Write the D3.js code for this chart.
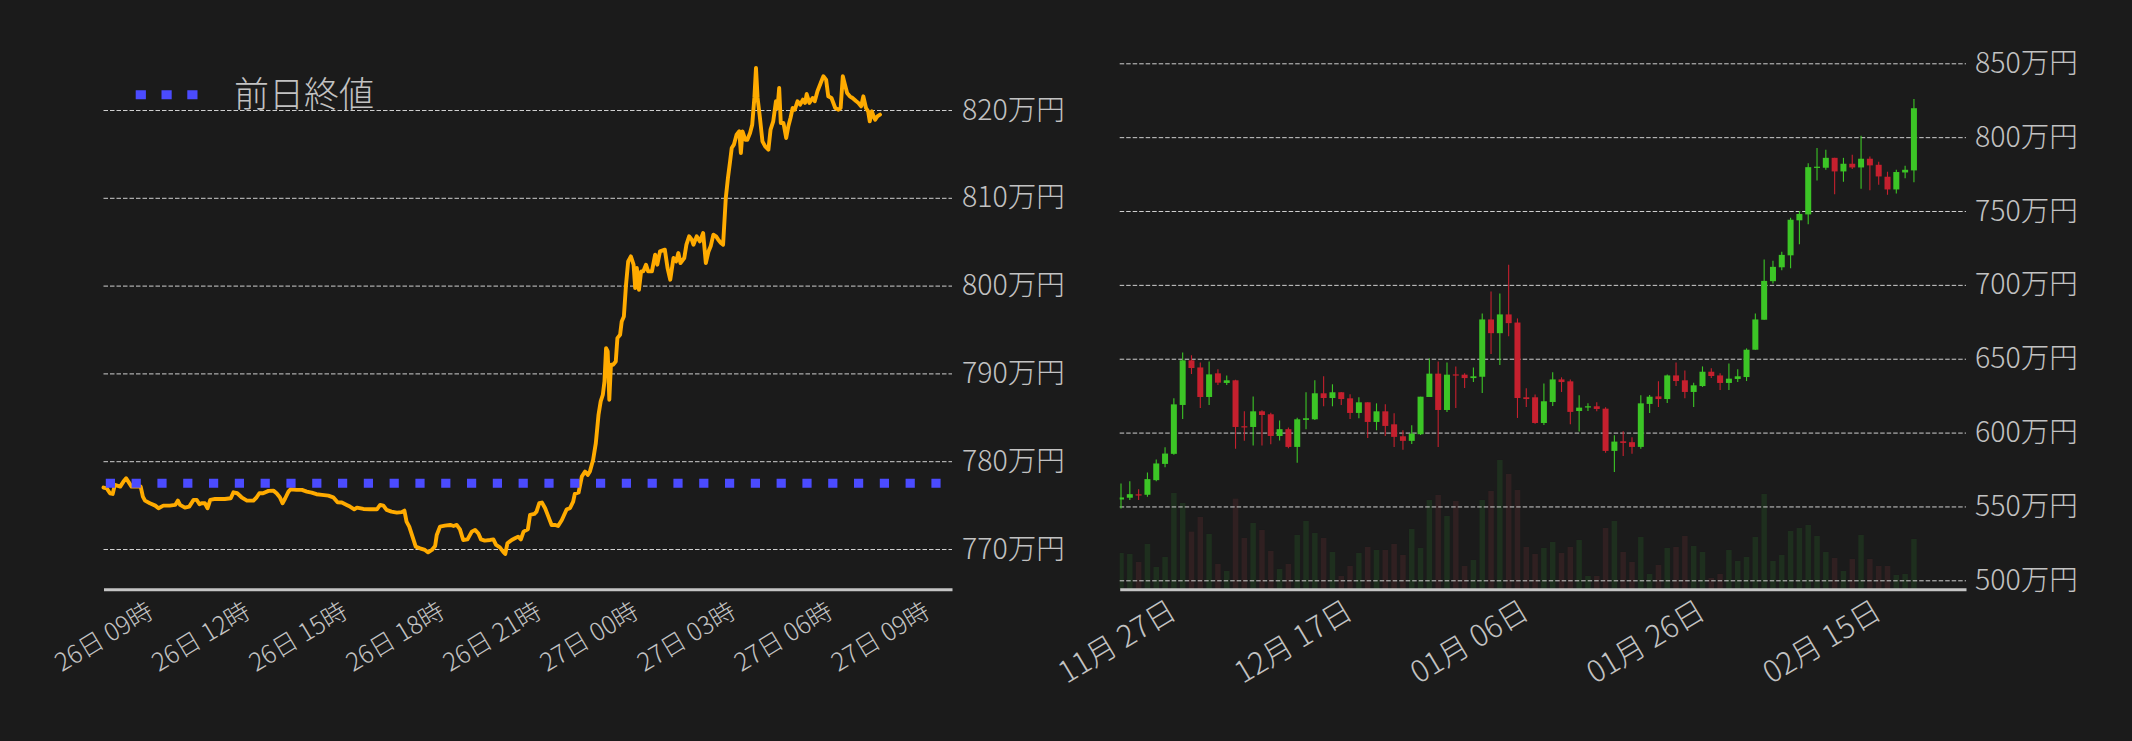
<!DOCTYPE html>
<html><head><meta charset="utf-8">
<script src="https://cdn.jsdelivr.net/npm/d3@7"></script>
<style>
html,body{margin:0;padding:0;background:#1b1b1b;}
svg{display:block;}
text{font-family:"Noto Sans CJK JP","Noto Sans",sans-serif;font-weight:300;}
</style></head><body>
<svg id="c" width="2132" height="741"></svg>
<script>
// ---------- LEFT: intraday price (万円), minutes after 26日 09:00 ----------
const lineMinutes = [0,6,12,17,21,31,37,42,46,52,62,69,73,77,86,96,102,111,123,133,138,142,151,159,167,173,178,182,188,193,198,207,216,225,236,241,248,256,266,278,284,289,296,306,315,321,327,332,337,343,347,358,368,377,386,395,405,417,426,434,442,451,457,465,470,482,494,507,513,519,525,534,544,553,558,562,567,570,575,579,587,596,602,609,615,618,624,633,643,649,655,661,667,675,683,689,695,700,707,717,723,728,735,741,745,749,757,763,769,774,779,787,791,799,803,808,813,819,825,831,837,843,850,859,865,871,874,881,887,893,898,902,908,913,918,922,926,929,932,935,938,941,945,950,953,958,961,965,969,973,978,983,986,989,993,997,1001,1006,1010,1017,1023,1027,1032,1041,1046,1051,1057,1062,1066,1070,1077,1081,1086,1091,1094,1100,1106,1112,1117,1122,1126,1131,1136,1140,1145,1149,1154,1158,1162,1165,1169,1174,1179,1182,1185,1190,1194,1199,1203,1207,1210,1213,1217,1222,1227,1233,1237,1242,1247,1250,1253,1256,1261,1266,1270,1274,1278,1282,1287,1292,1297,1301,1304,1309,1315,1319,1324,1330,1335,1340,1344,1350,1357,1363,1367,1371,1375,1379,1384,1389,1396,1400,1405,1409,1414,1418,1421,1425,1428,1431,1435,1440];
const linePrices = [777.0,776.9,776.35,776.27,777.3,777.11,777.68,778.06,777.68,777.11,777.11,777.11,775.97,775.51,775.21,774.94,774.64,774.94,774.94,775.02,775.51,775.02,774.71,774.83,775.59,775.59,775.1,775.21,775.21,774.64,775.59,775.7,775.7,775.7,775.78,776.46,776.35,775.89,775.51,775.51,775.89,776.35,776.35,776.62,776.65,776.35,775.89,775.21,775.78,776.54,776.81,776.73,776.73,776.54,776.43,776.24,776.16,776.08,775.89,775.32,775.29,775.02,774.83,774.52,774.71,774.56,774.52,774.52,775.02,774.94,774.45,774.26,774.14,774.2,774.37,773.12,772.55,771.98,771.03,770.27,770.08,769.89,769.62,769.89,770.34,771.6,772.55,772.66,772.74,772.62,772.74,772.24,771.03,771.1,771.98,772.17,771.79,771.1,770.95,771.03,771.1,770.46,770.19,769.7,769.43,770.65,771.03,771.22,771.41,771.1,771.98,772.24,773.88,773.99,774.26,775.21,775.29,774.64,773.69,772.74,772.74,772.62,773.31,774.52,774.64,775.4,776.27,776.43,778.25,778.82,778.44,778.82,780.16,782.06,785.29,786.81,787.57,789.08,792.88,792.5,787.0,790.98,790.98,791.36,794.02,794.4,795.92,796.49,800.1,802.76,803.33,802.38,799.72,802.0,799.53,801.62,801.62,802.38,801.62,801.62,803.52,802.38,803.9,804.09,802.0,800.67,803.14,802.76,803.71,802.57,803.14,804.66,805.61,805.23,804.66,805.61,805.04,805.99,802.57,803.9,804.47,805.8,805.61,805.23,804.85,804.66,809.97,812.25,814.15,815.67,816.05,817.19,817.57,815.1,817.57,816.62,816.62,817.38,818.33,821.37,824.79,821.37,819.28,816.43,815.86,815.48,817.76,818.71,820.99,820.23,822.51,818.52,818.52,816.81,818.14,819.09,820.23,820.04,820.99,820.61,821.18,820.8,821.82,820.8,821.37,820.99,822.13,823.08,823.84,823.46,821.56,821.37,820.23,820.04,820.23,823.84,822.89,821.94,821.56,821.37,820.99,820.8,820.42,821.56,820.23,819.85,818.71,819.85,819.28,818.9,819.28,819.47];
const prevClose = 777.5;
const leftYTicks = [770,780,790,800,810,820];
const leftXTickHours = [0,3,6,9,12,15,18,21,24];
const legendLabel = "前日終値";

// ---------- RIGHT: daily candles (万円), 2023-11-27 .. 2024-02-25 ----------
const candleStart = "2023-11-27";
const opens  = [554.7,555.9,558.2,557.9,567.8,578.8,585.6,618.7,648.9,644.1,624.1,640.1,633.6,635.4,604.3,603.8,614.4,612.4,597.7,602.3,590.3,608.6,609.0,626.6,623.4,627.3,623.2,613.3,620.5,607.2,614.4,605.6,597.5,594.4,598.9,624.1,639.9,615.3,639.4,639.2,636.9,637.8,676.6,667.3,680.0,674.5,623.9,623.9,606.5,620.7,636.0,634.7,614.6,617.3,617.8,616.2,587.6,594.1,593.5,590.3,619.4,624.5,622.7,638.7,635.4,627.5,631.5,641.2,638.7,633.6,636.3,637.6,656.1,676.4,702.5,711.9,720.0,743.7,747.7,779.7,779.3,786.0,776.8,782.0,779.5,785.4,781.3,773.2,764.6,776.1,777.5];
const highs  = [565.5,567.1,561.7,573.0,581.8,590.1,623.2,654.3,652.3,647.5,648.2,642.8,638.7,635.8,614.4,624.5,615.1,613.5,608.2,603.4,610.1,627.3,635.4,638.1,632.7,627.5,625.9,623.9,620.5,619.8,619.1,613.1,601.6,605.0,624.3,650.2,648.2,647.5,644.8,640.1,644.1,680.6,695.5,694.1,713.7,677.3,630.0,625.7,633.3,640.8,637.4,636.0,625.2,619.8,620.5,617.1,598.2,600.9,596.8,625.2,625.5,634.7,639.4,647.5,642.1,633.8,644.8,643.5,640.1,646.8,642.8,657.0,680.6,717.1,716.4,722.5,745.5,750.0,782.4,792.6,791.4,786.0,786.0,788.1,800.9,786.9,783.3,776.6,777.9,780.6,825.9];
const lows   = [548.6,554.3,554.3,556.5,567.1,576.6,585.0,609.2,639.6,616.7,618.7,632.2,632.2,589.0,594.4,591.2,591.2,592.1,594.6,589.4,579.5,602.3,608.6,617.8,617.8,618.7,609.2,609.7,596.4,601.6,597.7,590.3,588.3,592.3,598.4,624.1,590.3,614.0,616.7,630.2,634.2,626.8,653.2,645.7,665.3,609.9,617.3,606.0,605.2,618.0,627.5,605.6,600.7,614.6,614.4,586.3,573.4,584.2,585.6,589.0,613.3,617.3,620.0,631.5,623.2,617.3,630.9,636.9,628.8,628.8,634.2,634.9,656.1,676.4,700.9,709.9,711.3,727.5,741.0,770.7,777.9,761.3,769.8,778.4,765.1,764.0,767.8,761.0,761.9,772.1,769.4];
const closes = [556.1,558.3,557.7,568.5,579.1,585.8,619.1,648.9,643.7,624.1,639.4,633.8,635.4,603.8,603.8,614.4,611.9,597.7,602.3,590.3,609.0,609.7,626.6,623.4,627.3,622.7,613.3,620.5,607.2,614.4,604.5,597.1,594.4,599.3,624.3,639.9,615.3,639.2,638.9,636.9,638.1,676.6,667.3,680.0,674.1,623.4,622.7,606.5,621.2,636.0,634.2,614.0,616.9,617.8,616.0,587.6,593.9,593.0,590.3,619.8,624.3,622.7,638.7,634.9,627.5,632.0,641.2,638.3,633.6,636.5,638.1,656.1,676.6,702.7,712.2,720.3,744.1,748.0,779.7,780.0,786.0,776.8,782.0,779.5,785.4,780.9,773.4,764.6,776.4,777.9,819.6];
const volumes = [908,883,683,1133,558,808,2408,2158,1440,1808,1383,633,458,2265,1283,1658,1483,958,508,633,1358,1708,1408,1283,933,333,583,908,1058,983,983,1133,858,1508,1033,2233,2358,1833,2208,583,733,2233,2458,3233,2883,2483,1058,883,1033,1183,908,1058,1233,333,333,1533,1708,933,683,1308,383,608,1033,1058,1333,1083,933,283,383,983,708,808,1308,2383,708,858,1458,1533,1608,1333,933,783,458,758,1358,758,583,583,358,383,1258];
const rightYTicks = [500,550,600,650,700,750,800,850];
const rightXTickDates = ["2023-11-27","2023-12-17","2024-01-06","2024-01-26","2024-02-15"];

// ---------- styles ----------
const BG = "#1b1b1b", TXT = "#c2c2c2", GRID = "#cfcfcf", SPINE = "#c4c4c4";
const ORANGE = "#ffab00", BLUE = "#4b4bff", UP = "#3cc526", DOWN = "#c5202e";
const UPV = "#1e2f1e", DOWNV = "#302021";
const FONT = '"Noto Sans CJK JP",sans-serif';

const svg = d3.select("#c");
svg.append("rect").attr("width",2132).attr("height",741).attr("fill",BG);

function styleGrid(g){
  g.select(".domain").remove();
  g.selectAll("line").attr("stroke",GRID).attr("stroke-width",1).attr("stroke-dasharray","4.5 2");
}

// ================= LEFT CHART =================
const t0 = new Date(2024,1,26,9,0);
const xL = d3.scaleTime().domain([t0, new Date(2024,1,27,11,13,30)]).range([103.5, 952]);
const yL = d3.scaleLinear().domain([770,820]).range([549,110]);
const yLmin = 765.41;
const [xL0, xL1] = xL.range();

svg.append("g").attr("transform",`translate(${xL0},0)`)
  .call(d3.axisLeft(yL).tickValues(leftYTicks).tickSize(-(xL1-xL0)).tickFormat(""))
  .call(styleGrid);

svg.append("g").attr("transform",`translate(${xL1},0)`)
  .call(d3.axisRight(yL).tickValues(leftYTicks).tickSize(0).tickPadding(10).tickFormat(d=>d+"万円"))
  .call(g=>{g.select(".domain").remove();
    g.selectAll("text").attr("fill",TXT).attr("font-size",28.5).attr("font-family",FONT).attr("font-weight",300);});

const pts = lineMinutes.map((m,i)=>({t:d3.timeMinute.offset(t0,m), v:linePrices[i]}));
svg.append("path").datum(pts)
  .attr("d", d3.line().x(d=>xL(d.t)).y(d=>yL(d.v)))
  .attr("fill","none").attr("stroke",ORANGE).attr("stroke-width",3.9)
  .attr("stroke-linejoin","round").attr("stroke-linecap","round");

svg.append("line").attr("x1",xL0).attr("x2",xL1).attr("y1",yL(prevClose)).attr("y2",yL(prevClose))
  .attr("stroke",BLUE).attr("stroke-width",9).attr("stroke-dasharray","9.2 16.6").attr("stroke-dashoffset",-2.3);

svg.append("g").attr("transform",`translate(0,${yL(yLmin)})`)
  .call(d3.axisBottom(xL).tickValues(leftXTickHours.map(h=>d3.timeHour.offset(t0,h))).tickSize(0)
    .tickFormat(d3.timeFormat("%d日 %H時")))
  .call(g=>{g.select(".domain").attr("stroke",SPINE).attr("stroke-width",3);
    g.selectAll("text").attr("fill",TXT).attr("font-size",25).attr("font-family",FONT).attr("font-weight",300)
      .attr("text-anchor","middle").attr("y",0).attr("dy","0.35em")
      .attr("transform","translate(0,47.4) rotate(-31)");});

// legend
const lg = svg.append("g");
lg.append("line").attr("x1",135.7).attr("x2",200).attr("y1",94.7).attr("y2",94.7)
  .attr("stroke",BLUE).attr("stroke-width",9).attr("stroke-dasharray","10.2 15.6");
lg.append("text").attr("x",234).attr("y",94.5).attr("dy","0.36em").attr("font-size",35)
  .attr("font-weight",300).attr("fill",TXT).text(legendLabel);

// ================= RIGHT CHART =================
const xR = d3.scaleTime().domain([new Date(2023,10,27,8,27), new Date(2024,2,2,9,50)]).range([1119.7,1966]);
const yR = d3.scaleLinear().domain([500,850]).range([580.3,63.3]);
const yRmin = 493.9;
const [xR0, xR1] = xR.range();
const spineR = yR(yRmin);
const yV = d3.scaleLinear().domain([0,4000]).range([spineR, spineR-160]);

const startDate = d3.timeParse("%Y-%m-%d")(candleStart);
const candles = opens.map((o,i)=>({
  t: d3.timeHour.offset(d3.timeDay.offset(startDate,i),12),
  o, h:highs[i], l:lows[i], c:closes[i], v:volumes[i]
}));

svg.append("clipPath").attr("id","clipR").append("rect")
  .attr("x",xR0).attr("y",0).attr("width",xR1-xR0).attr("height",spineR);

const bw = 6;
svg.append("g").attr("clip-path","url(#clipR)").selectAll("rect").data(candles).join("rect")
  .attr("x",d=>xR(d.t)-2.75).attr("width",5.5)
  .attr("y",d=>yV(d.v)).attr("height",d=>spineR-yV(d.v))
  .attr("fill",d=>d.c>=d.o?UPV:DOWNV);

svg.append("g").attr("transform",`translate(${xR0},0)`)
  .call(d3.axisLeft(yR).tickValues(rightYTicks).tickSize(-(xR1-xR0)).tickFormat(""))
  .call(styleGrid);

const cg = svg.append("g").attr("clip-path","url(#clipR)");
cg.selectAll("line").data(candles).join("line")
  .attr("x1",d=>xR(d.t)).attr("x2",d=>xR(d.t))
  .attr("y1",d=>yR(d.h)).attr("y2",d=>yR(d.l))
  .attr("stroke",d=>d.c>=d.o?UP:DOWN).attr("stroke-width",1.1);
cg.selectAll("rect").data(candles).join("rect")
  .attr("x",d=>xR(d.t)-bw/2).attr("width",bw)
  .attr("y",d=>yR(Math.max(d.o,d.c)))
  .attr("height",d=>Math.max(1.2,Math.abs(yR(d.o)-yR(d.c))))
  .attr("fill",d=>d.c>=d.o?UP:DOWN);

svg.append("g").attr("transform",`translate(${xR1},0)`)
  .call(d3.axisRight(yR).tickValues(rightYTicks).tickSize(0).tickPadding(9).tickFormat(d=>d+"万円"))
  .call(g=>{g.select(".domain").remove();
    g.selectAll("text").attr("fill",TXT).attr("font-size",28.5).attr("font-family",FONT).attr("font-weight",300);});

const parseD = d3.timeParse("%Y-%m-%d");
svg.append("g").attr("transform",`translate(0,${spineR})`)
  .call(d3.axisBottom(xR).tickValues(rightXTickDates.map(parseD)).tickSize(0)
    .tickFormat(d3.timeFormat("%m月 %d日")))
  .call(g=>{g.select(".domain").attr("stroke",SPINE).attr("stroke-width",3);
    g.selectAll("text").attr("fill",TXT).attr("font-size",30).attr("font-family",FONT).attr("font-weight",300)
      .attr("text-anchor","middle").attr("y",0).attr("dy","0.35em")
      .attr("transform","translate(0,52.2) rotate(-31)");});
</script>
</body></html>
